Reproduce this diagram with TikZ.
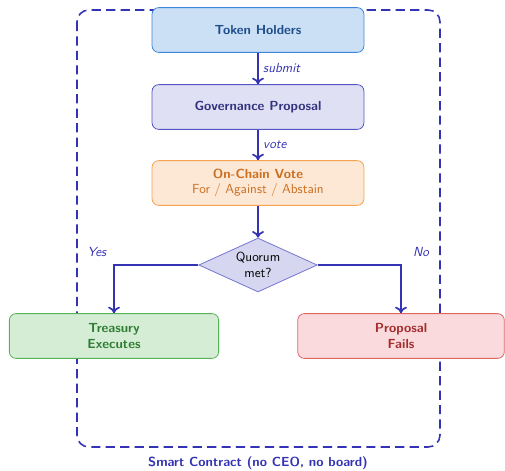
\documentclass[tikz,border=0pt]{standalone}
\usepackage{amsmath}
\usepackage{tikz}
\usetikzlibrary{shapes.geometric,arrows.meta}

\definecolor{flowline}{HTML}{3333B3}
\definecolor{holderfill}{HTML}{CCE0F5}
\definecolor{holderdraw}{HTML}{3C87DC}
\definecolor{holdertext}{HTML}{1F4E8C}
\definecolor{propfill}{HTML}{E0E0F4}
\definecolor{propdraw}{HTML}{5555C4}
\definecolor{proptext}{HTML}{33337F}
\definecolor{votefill}{HTML}{FDE8D6}
\definecolor{votedraw}{HTML}{F5A352}
\definecolor{votetext}{HTML}{CC6E1F}
\definecolor{quorumfill}{HTML}{D6D6F0}
\definecolor{quorumdraw}{HTML}{7474D2}
\definecolor{treasfill}{HTML}{D5ECD5}
\definecolor{treasdraw}{HTML}{55B455}
\definecolor{treastext}{HTML}{2E7D32}
\definecolor{failfill}{HTML}{FADADD}
\definecolor{faildraw}{HTML}{E06464}
\definecolor{failtext}{HTML}{A32C2C}

\tikzset{
	flowbox/.style={rectangle,rounded corners=5pt,line width=0.6pt,minimum width=161pt,minimum height=34pt,align=center,font=\sffamily},
	flowarrow/.style={-{To[length=5pt,width=9pt]},line width=1.3pt,draw=flowline},
	flowlabel/.style={font=\sffamily\itshape,text=flowline}
}

\begin{document}
\begin{tikzpicture}[x=0.76pt,y=-0.76pt]
	\useasboundingbox (0,0) rectangle (505,470);
	\draw[dashed,line width=1.2pt,draw=flowline,dash pattern=on 7pt off 4pt,rounded corners=9pt] (77,10) rectangle (440,447);
	\node (holders) at (258,30) [flowbox,fill=holderfill,draw=holderdraw,text=holdertext] {\bfseries Token Holders};
	\node (proposal) at (258,107) [flowbox,fill=propfill,draw=propdraw,text=proptext] {\bfseries Governance Proposal};
	\node (vote) at (258,183) [flowbox,fill=votefill,draw=votedraw,text=votetext] {\bfseries On-Chain Vote\\For / Against / Abstain};
	\node (quorum) at (258,265) [diamond,aspect=2.2,inner sep=1pt,minimum width=90pt,minimum height=41pt,fill=quorumfill,draw=quorumdraw,line width=0.6pt,align=center,font=\sffamily] {Quorum\\met?};
	\node (treasury) at (114,336) [flowbox,minimum width=159pt,fill=treasfill,draw=treasdraw,text=treastext] {\bfseries Treasury\\\bfseries Executes};
	\node (fails) at (401,336) [flowbox,minimum width=157pt,fill=failfill,draw=faildraw,text=failtext] {\bfseries Proposal\\\bfseries Fails};
	\node (contract) at (258,463) [font=\sffamily\bfseries,text=flowline] {Smart Contract (no CEO, no board)};
	\draw[flowarrow] (holders) -- node[flowlabel,right] {submit} (proposal);
	\draw[flowarrow] (proposal) -- node[flowlabel,right] {vote} (vote);
	\draw[flowarrow] (vote) -- (quorum);
	\draw[flowarrow] (quorum.west) -| (treasury.north);
	\draw[flowarrow] (quorum.east) -| (fails.north);
	\node (yes) at (97,252) [flowlabel] {Yes};
	\node (no) at (421,252) [flowlabel] {No};
\end{tikzpicture}
\end{document}
